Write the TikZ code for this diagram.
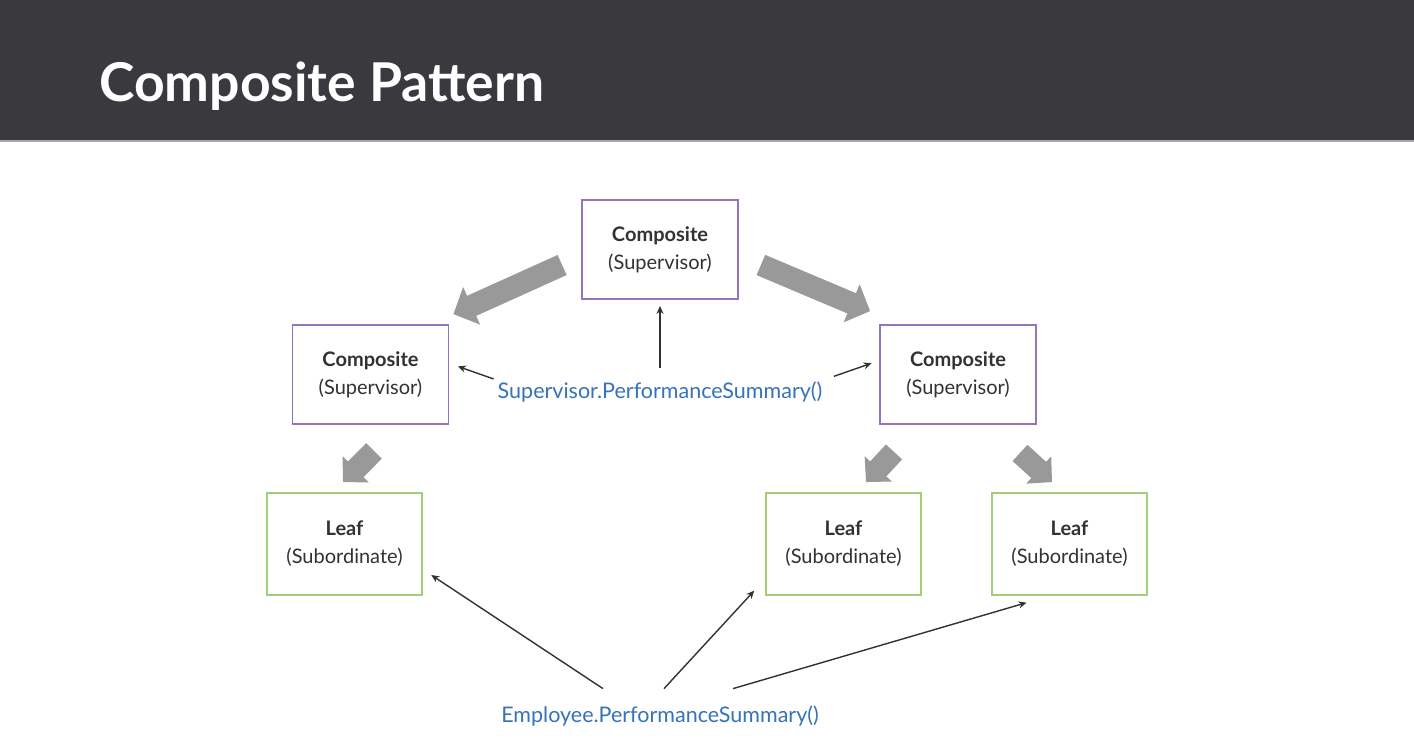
\documentclass[tikz,border=0pt]{standalone}
\usepackage{fontspec}
\setmainfont{Lato}
\usetikzlibrary{arrows.meta}
\definecolor{headbg}{RGB}{58,58,62}
\definecolor{compborder}{RGB}{150,115,190}
\definecolor{leafborder}{RGB}{165,205,120}
\definecolor{calltext}{RGB}{55,115,185}
\definecolor{fatgray}{RGB}{153,153,153}
\definecolor{boxtext}{RGB}{50,50,50}
\begin{document}
\begin{tikzpicture}[x=1pt,y=-1pt,
    comp/.style={draw=compborder,line width=1.8pt,minimum width=156pt,minimum height=99pt,
      align=center,text=boxtext,font=\fontsize{20}{28}\selectfont},
    leaf/.style={comp,draw=leafborder,minimum width=155pt,minimum height=102pt},
    call/.style={text=calltext,inner sep=2pt,font=\fontsize{21.5}{24}\selectfont},
    callarrow/.style={draw=boxtext,line width=1.4pt,-{Stealth[length=8pt,width=7pt]}},
    fat/.style={draw=fatgray,line width=22pt,-{Triangle[width=40pt,length=20pt]}},
    fatsmall/.style={draw=fatgray,line width=22pt,-{Triangle[width=36pt,length=18pt]}}]
  \useasboundingbox (0,0) rectangle (1414,744);
  \fill[white] (0,0) rectangle (1414,744);
  \fill[headbg] (0,0) rectangle (1414,140);
  \draw[gray!70,line width=2pt] (0,141) -- (1414,141);
  \node[anchor=base west,inner sep=0pt,text=white,font=\fontsize{53.5}{54}\selectfont\bfseries]
    (title) at (99,101) {Composite Pattern};
  \draw
    (660,249.5) node[comp] (c0) {\textbf{Composite}\\(Supervisor)}
    (370.5,374.5) node[comp] (c1) {\textbf{Composite}\\(Supervisor)}
    (958,374.5) node[comp] (c2) {\textbf{Composite}\\(Supervisor)}
    (344.5,544) node[leaf] (l1) {\textbf{Leaf}\\(Subordinate)}
    (843.5,544) node[leaf] (l2) {\textbf{Leaf}\\(Subordinate)}
    (1069.5,544) node[leaf] (l3) {\textbf{Leaf}\\(Subordinate)}
    (660,392) node[call] (sup) {Supervisor.PerformanceSummary()}
    (660,716) node[call] (emp) {Employee.PerformanceSummary()};
  % composite to children
  \begin{scope}
    \draw[fat] ([shift={(-19,15.5)}]c0.west) to ([shift={(4,-10)}]c1.north east);
    \draw[fat] ([shift={(22,15.5)}]c0.east) to ([shift={(-9,-13)}]c2.north west);
    \draw[fatsmall] ([shift={(3.5,26)}]c1.south) to ([shift={(-1.5,-10)}]l1.north);
    \draw[fatsmall] ([shift={(-64,27)}]c2.south) to ([shift={(22.5,-10)}]l2.north);
    \draw[fatsmall] ([shift={(62,28)}]c2.south) to ([shift={(-17.5,-10)}]l3.north);
  \end{scope}
  % calls
  \begin{scope}[callarrow]
    \draw[shorten <=12pt,shorten >=6pt] (sup.north) to (c0.south);
    \draw[shorten <=2pt,shorten >=9pt] (sup.north west) to (c1.8);
    \draw[shorten <=10pt,shorten >=8pt] (sup.north east) to (c2.170);
    \draw[shorten >=10pt] ([shift={(-57,-15)}]emp.north) to (l1.-18);
    \draw[shorten >=16pt] ([shift={(4,-15)}]emp.north) to (l2.204);
    \draw[shorten >=24pt] ([shift={(73,-15)}]emp.north) to (l3.249);
  \end{scope}
\end{tikzpicture}
\end{document}
